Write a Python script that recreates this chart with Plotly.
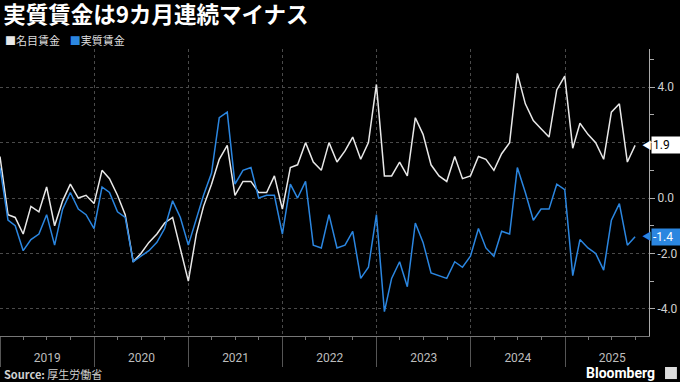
import pandas as pd
import plotly.graph_objects as go

# Monthly data, Dec 2018 - Sep 2025 (YoY %, month-end dated)
dates = pd.date_range("2018-12-31", periods=82, freq="ME")

nominal = [1.5, -0.6, -0.7, -1.3, -0.3, -0.5, 0.4, -1.0, -0.1, 0.5, 0.0, 0.1,
           -0.2, 1.0, 0.7, 0.1, -0.6, -2.3, -2.0, -1.6, -1.3, -0.9, -0.7, -1.8,
           -3.0, -1.3, -0.3, 0.5, 1.4, 1.9, 0.1, 0.6, 0.6, 0.2, 0.2, 0.8,
           -0.4, 1.1, 1.2, 2.0, 1.3, 1.0, 2.0, 1.3, 1.7, 2.2, 1.4, 2.0,
           4.1, 0.8, 0.8, 1.3, 0.8, 2.9, 2.3, 1.2, 0.8, 0.6, 1.5, 0.7,
           0.8, 1.5, 1.4, 1.0, 1.6, 2.0, 4.5, 3.4, 2.8, 2.5, 2.2, 3.9,
           4.4, 1.8, 2.7, 2.3, 2.0, 1.4, 3.1, 3.4, 1.3, 1.9]

real = [1.1, -0.8, -1.0, -1.9, -1.5, -1.3, -0.6, -1.7, -0.4, 0.2, -0.4, -0.6,
        -1.1, 0.4, 0.2, -0.5, -0.7, -2.3, -2.1, -1.9, -1.6, -1.1, -0.1, -0.7,
        -1.7, -0.8, 0.1, 0.9, 2.9, 3.1, 0.5, 1.0, 1.1, 0.0, 0.1, 0.1,
        -1.3, 0.5, 0.0, 0.6, -1.7, -1.8, -0.6, -1.8, -1.7, -1.2, -2.9, -2.5,
        -0.6, -4.1, -2.9, -2.3, -3.2, -0.9, -1.6, -2.7, -2.8, -2.9, -2.3, -2.5,
        -2.1, -1.1, -1.8, -2.1, -1.2, -1.3, 1.1, 0.2, -0.8, -0.4, -0.4, 0.5,
        0.3, -2.8, -1.5, -1.8, -2.0, -2.6, -0.8, -0.2, -1.7, -1.4]

series_names = ["名目賃金", "実質賃金"]
title_text = "実質賃金は9カ月連続マイナス"
source_text = "<b>Source:</b> 厚生労働省"
y_ticks = [-4, -2, 0, 2, 4]
y_ticklabels = ["-4.0", "-2.0", "0.0", "", "4.0"]  # 2.0 hidden behind last-value tag

WHITE = "#e8e8e8"
BLUE = "#2b86e0"
GRID = "#4a4a4a"
TXT = "#c8c8c8"

fig = go.Figure()
fig.add_trace(go.Scatter(x=dates, y=nominal, mode="lines", name=series_names[0],
                         line=dict(color=WHITE, width=1.5)))
fig.add_trace(go.Scatter(x=dates, y=real, mode="lines", name=series_names[1],
                         line=dict(color=BLUE, width=1.5)))

fig.update_layout(
    width=680, height=382,
    paper_bgcolor="#000000", plot_bgcolor="#000000",
    margin=dict(l=0, r=31, t=49, b=46),
    showlegend=False,
    title=dict(text=f"<b>{title_text}</b>", x=0.005, xanchor="left",
               xref="paper", yref="container", y=0.982, yanchor="top",
               font=dict(family="Noto Sans CJK JP", size=22.5, color="#ffffff")),
    font=dict(family="Roboto, Noto Sans CJK JP", color=TXT, size=12),
)

fig.update_xaxes(
    range=["2018-12-31", "2025-11-23"],
    tick0="2019-01-01", dtick="M12", ticklabelmode="period",
    tickformat="%Y",
    ticks="outside", ticklen=30, tickcolor="#555555", tickwidth=1,
    ticklabelstandoff=-19,
    showgrid=True, gridcolor=GRID, griddash="dot", gridwidth=1,
    showline=True, linecolor="#777777", linewidth=1,
    tickfont=dict(family="Roboto", size=12, color="#bdbdbd"),
    minor=dict(dtick="M3", ticks="outside", ticklen=3, tickcolor="#777777", showgrid=False),
    zeroline=False,
)

fig.update_yaxes(
    side="right", range=[-4.98, 5.38],
    tickvals=y_ticks, ticktext=y_ticklabels,
    ticks="outside", ticklen=5, tickcolor="#aaaaaa",
    showgrid=True, gridcolor=GRID, griddash="dot", gridwidth=1,
    showline=True, linecolor="#aaaaaa", linewidth=1,
    tickfont=dict(family="Roboto", size=12, color="#d0d0d0"),
    minor=dict(dtick=1, ticks="outside", ticklen=4, tickcolor="#aaaaaa", showgrid=False),
    zeroline=False,
)

# Legend
fig.add_annotation(
    xref="paper", yref="paper", x=0.005, y=1.031, xanchor="left", yanchor="middle",
    showarrow=False,
    text=(f"<span style='color:{WHITE}'>■</span>{series_names[0]}"
          f"&nbsp;&nbsp;&nbsp;&nbsp;<span style='color:{BLUE}'>■</span>{series_names[1]}"),
    font=dict(family="Noto Sans CJK JP", size=11, color="#dddddd"),
)

# Last value tags
last_vals = [(nominal[-1], "#ffffff", "#000000"), (real[-1], BLUE, "#ffffff")]
for v, bg, fg in last_vals:
    fig.add_annotation(xref="paper", yref="y", x=1.0, y=v, xanchor="right", yanchor="middle",
                       showarrow=False, text="◀", font=dict(size=10, color=bg),
                       xshift=5)
    fig.add_annotation(xref="paper", yref="y", x=1.0, y=v, xanchor="left", yanchor="middle",
                       showarrow=False, text=f"{v:.1f}", bgcolor=bg, borderpad=1,
                       font=dict(family="Roboto", size=12, color=fg), xshift=2,
                       width=27, align="left")

# Source & branding
fig.add_annotation(xref="paper", yref="paper", x=0.003, y=-0.132, xanchor="left", yanchor="middle",
                   showarrow=False, text=source_text,
                   font=dict(family="Noto Sans CJK JP", size=11, color="#d0d0d0"))
fig.add_annotation(xref="paper", yref="paper", x=1.0125, y=-0.128, xanchor="right", yanchor="middle",
                   showarrow=False, text="<b>Bloomberg</b>",
                   font=dict(family="Roboto", size=14, color="#ffffff"))
fig.add_shape(type="rect", xref="paper", yref="paper",
              x0=1.0247, x1=1.043, y0=-0.150, y1=-0.108,
              fillcolor="#dddddd", line=dict(width=0))

fig.write_html("out.html", config={"displayModeBar": False},
               post_script="document.body.style.margin='0';")
